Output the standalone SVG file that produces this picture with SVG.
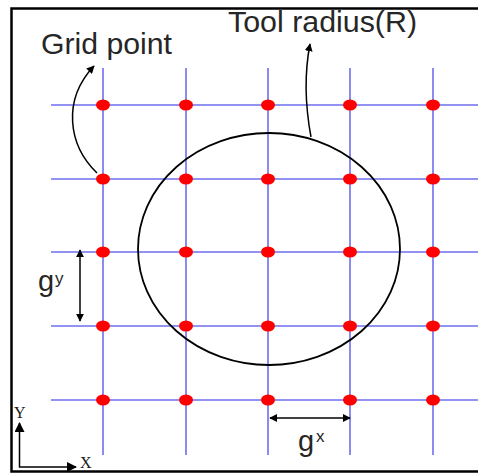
<svg xmlns="http://www.w3.org/2000/svg" width="478" height="474" viewBox="0 0 478 474">
<style>
.grid{stroke:#6f6ff0;stroke-width:1.6;fill:none}
.dot{fill:#ff0000}
.lbl{font-family:"Liberation Sans",Arial,sans-serif;fill:#262626}
.ax{font-family:"Liberation Serif","Times New Roman",serif;fill:#1a1a1a}
.blk{stroke:#000;stroke-width:1.5;fill:none}
</style>
<defs>
<marker id="ah" viewBox="0 0 10 10" refX="9" refY="5" markerWidth="8" markerHeight="8" markerUnits="userSpaceOnUse" orient="auto-start-reverse">
<path d="M0,0 L10,5 L0,10 z" fill="#000"/>
</marker>
<marker id="ah2" viewBox="0 0 10 10" refX="9" refY="5" markerWidth="10" markerHeight="10" markerUnits="userSpaceOnUse" orient="auto-start-reverse">
<path d="M0,0 L10,5 L0,10 z" fill="#000"/>
</marker>
</defs>
<rect width="478" height="474" fill="#fff"/>
<path d="M478 8.5 H11.5 V471.5 H478" fill="none" stroke="#000" stroke-width="2.5"/>
<g id="grid">
<path class="grid" d="M51 105 H478 M51 179 H478 M51 252 H478 M51 326 H478 M51 400 H478"/>
<path class="grid" d="M103 68 V455 M186 68 V455 M268 68 V455 M350 68 V455 M433 68 V455"/>
</g>
<g id="tool-circle">
<ellipse cx="269" cy="249" rx="131" ry="116" stroke="#000" stroke-width="1.8" fill="none"/>
</g>
<g id="grid-points">
<ellipse class="dot" cx="103" cy="105" rx="7" ry="5.5"/><ellipse class="dot" cx="186" cy="105" rx="7" ry="5.5"/><ellipse class="dot" cx="268" cy="105" rx="7" ry="5.5"/><ellipse class="dot" cx="350" cy="105" rx="7" ry="5.5"/><ellipse class="dot" cx="433" cy="105" rx="7" ry="5.5"/>
<ellipse class="dot" cx="103" cy="179" rx="7" ry="5.5"/><ellipse class="dot" cx="186" cy="179" rx="7" ry="5.5"/><ellipse class="dot" cx="268" cy="179" rx="7" ry="5.5"/><ellipse class="dot" cx="350" cy="179" rx="7" ry="5.5"/><ellipse class="dot" cx="433" cy="179" rx="7" ry="5.5"/>
<ellipse class="dot" cx="103" cy="252" rx="7" ry="5.5"/><ellipse class="dot" cx="186" cy="252" rx="7" ry="5.5"/><ellipse class="dot" cx="268" cy="252" rx="7" ry="5.5"/><ellipse class="dot" cx="350" cy="252" rx="7" ry="5.5"/><ellipse class="dot" cx="433" cy="252" rx="7" ry="5.5"/>
<ellipse class="dot" cx="103" cy="326" rx="7" ry="5.5"/><ellipse class="dot" cx="186" cy="326" rx="7" ry="5.5"/><ellipse class="dot" cx="268" cy="326" rx="7" ry="5.5"/><ellipse class="dot" cx="350" cy="326" rx="7" ry="5.5"/><ellipse class="dot" cx="433" cy="326" rx="7" ry="5.5"/>
<ellipse class="dot" cx="103" cy="400" rx="7" ry="5.5"/><ellipse class="dot" cx="186" cy="400" rx="7" ry="5.5"/><ellipse class="dot" cx="268" cy="400" rx="7" ry="5.5"/><ellipse class="dot" cx="350" cy="400" rx="7" ry="5.5"/><ellipse class="dot" cx="433" cy="400" rx="7" ry="5.5"/>
</g>
<g id="connectors">
<path class="blk" d="M97 173 C68 145 62 100 94 66" marker-end="url(#ah)"/>
<path class="blk" d="M311 137 C306 110 304 75 310 44" marker-end="url(#ah)"/>
<path class="blk" d="M80 250 V321" marker-start="url(#ah)" marker-end="url(#ah)"/>
<path class="blk" d="M270 418 H350" marker-start="url(#ah)" marker-end="url(#ah)"/>
<path class="blk" d="M19.5 423 V467 H76" marker-start="url(#ah2)" marker-end="url(#ah2)"/>
</g>
<g id="labels">
<text class="lbl" x="41" y="54" font-size="29" textLength="131" lengthAdjust="spacingAndGlyphs">Grid point</text>
<text class="lbl" x="228" y="32" font-size="29" textLength="189" lengthAdjust="spacingAndGlyphs">Tool radius(R)</text>
<text class="lbl" x="38" y="291" font-size="29">g</text>
<text class="lbl" x="55" y="284" font-size="17">y</text>
<text class="lbl" x="298" y="451" font-size="29">g</text>
<text class="lbl" x="316" y="442" font-size="17">x</text>
<text class="ax" x="80" y="468" font-size="16">X</text>
<text class="ax" x="14" y="418" font-size="16">Y</text>
</g>
</svg>
